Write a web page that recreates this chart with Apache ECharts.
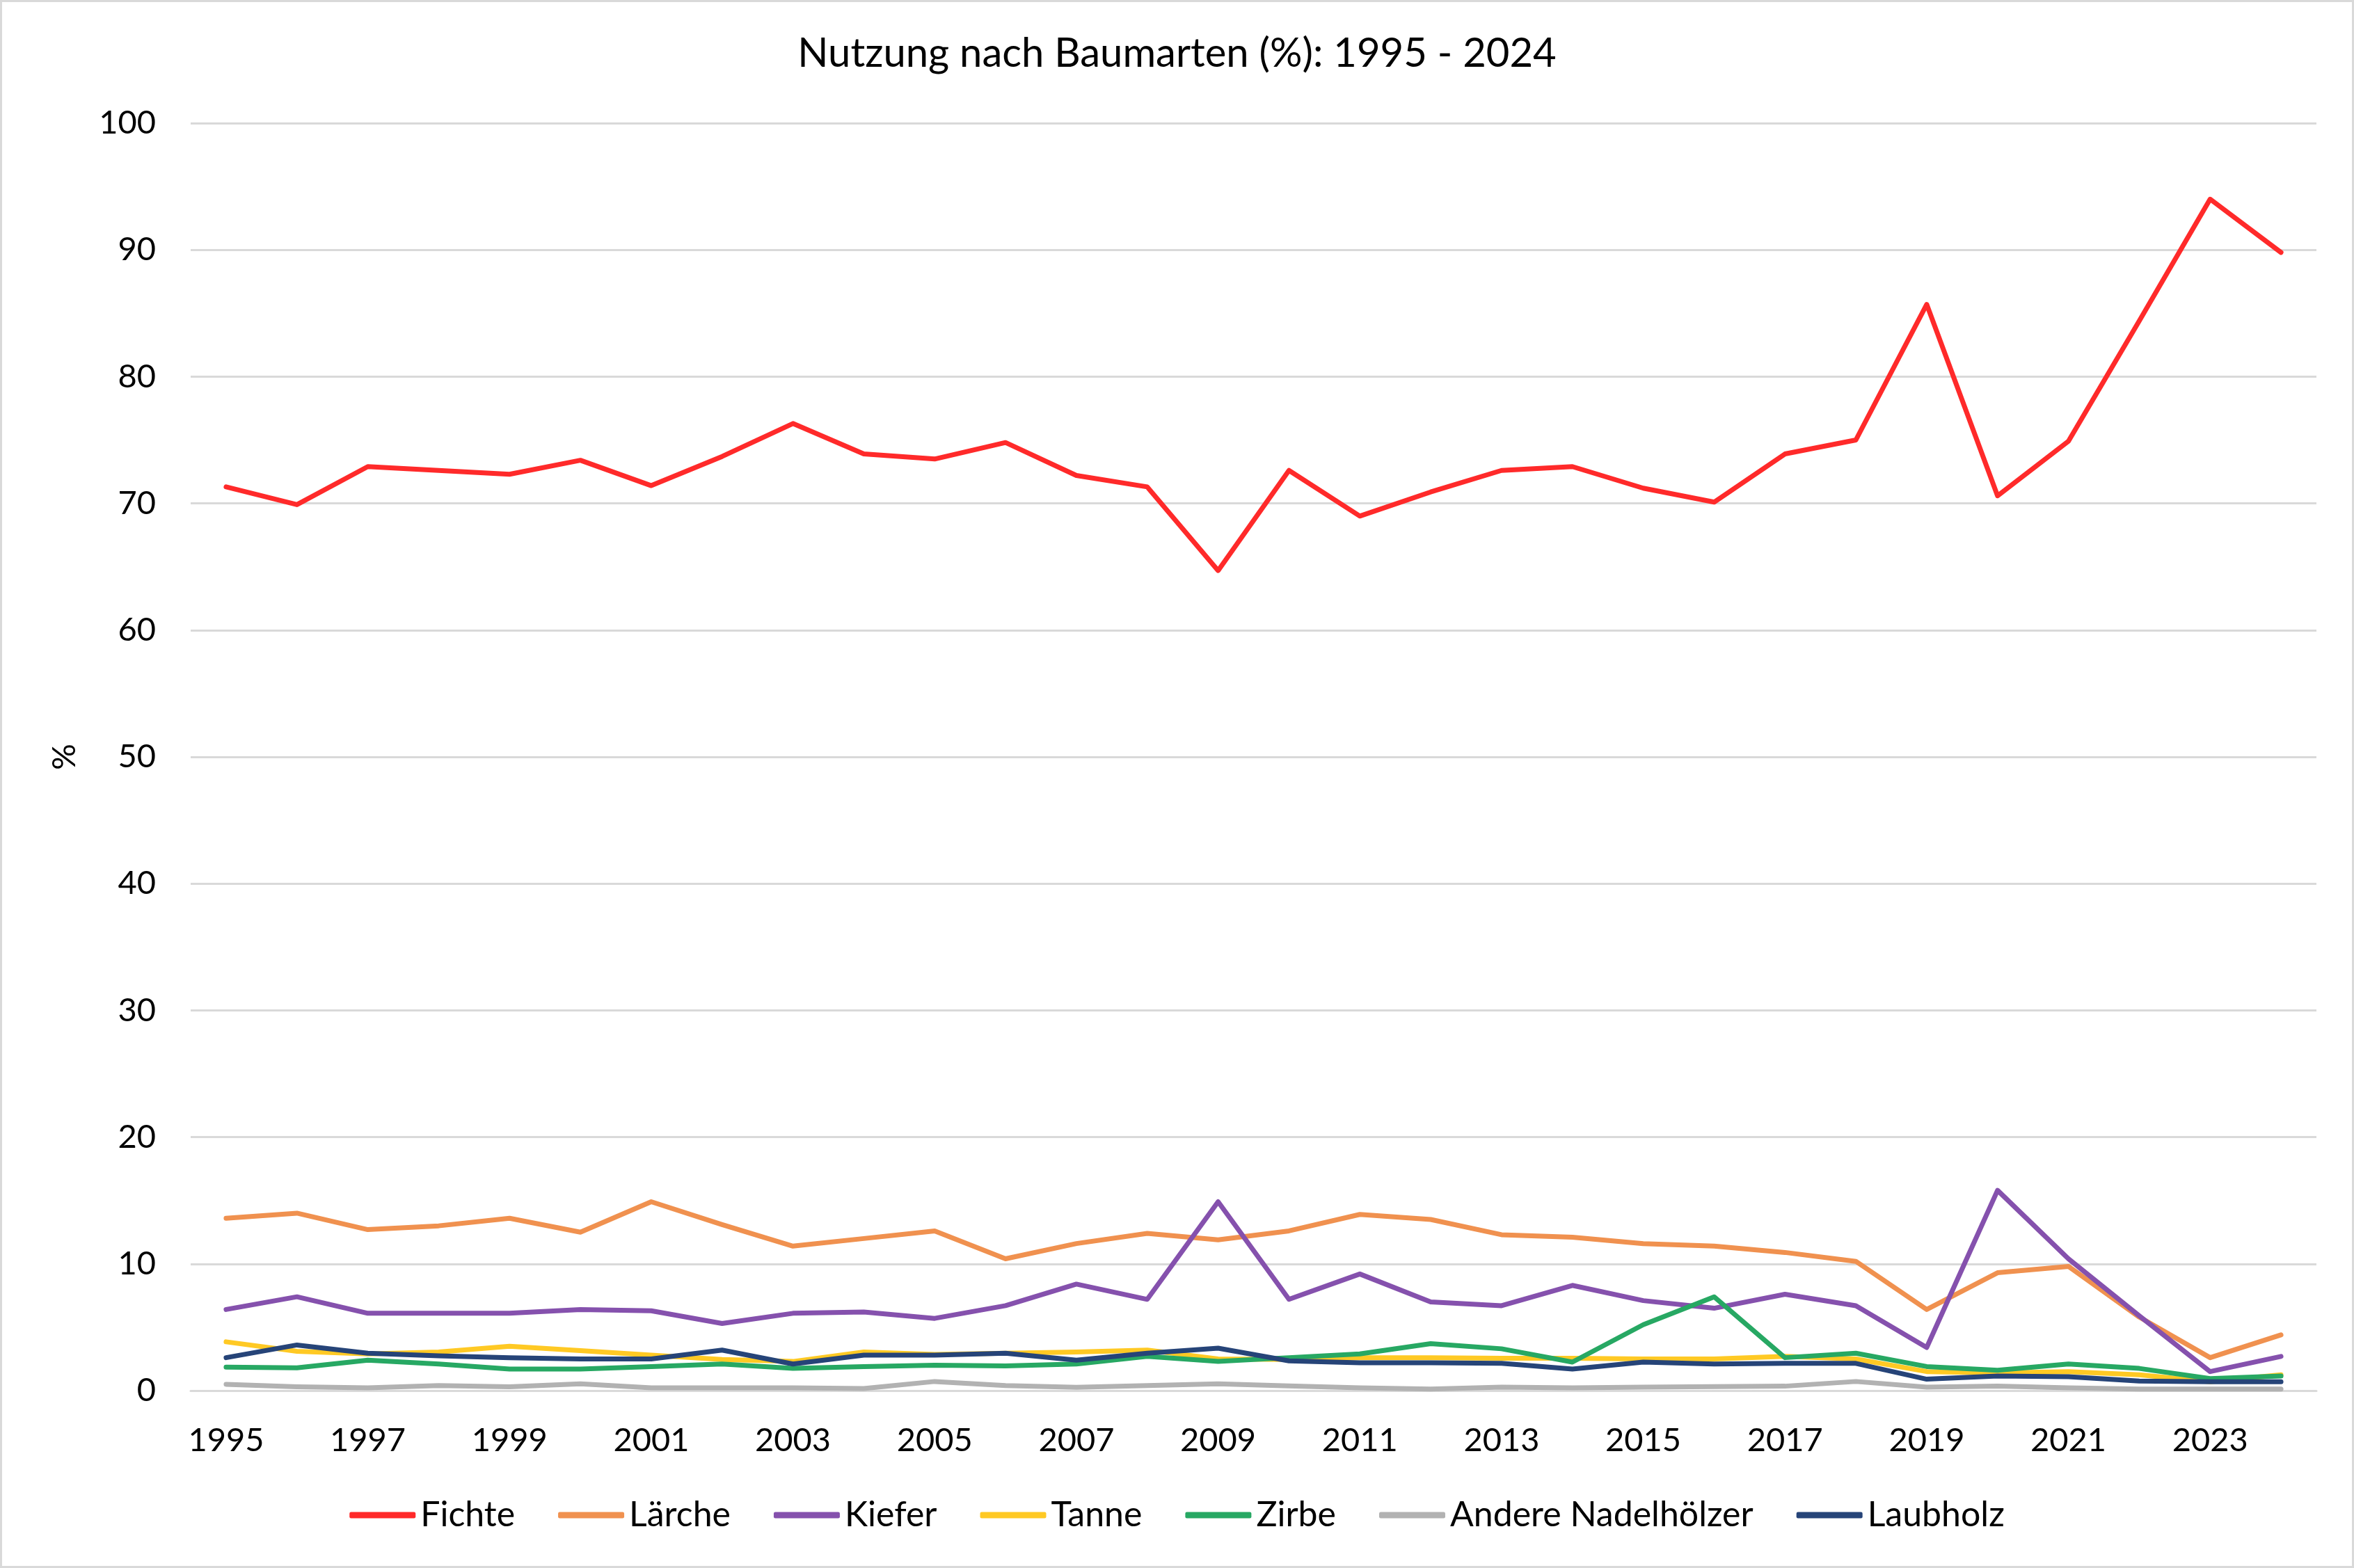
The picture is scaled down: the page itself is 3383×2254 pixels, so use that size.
<!DOCTYPE html>
<html>
<head>
<meta charset="utf-8">
<script src="https://cdn.jsdelivr.net/npm/echarts@6/dist/echarts.min.js"></script>
<style>
html,body{margin:0;padding:0;background:#fff;}
#c{width:3383px;height:2254px;}
</style>
</head>
<body>
<div id="c"></div>
<script>
const years = ['1995','1996','1997','1998','1999','2000','2001','2002','2003','2004','2005','2006','2007','2008','2009','2010','2011','2012','2013','2014','2015','2016','2017','2018','2019','2020','2021','2022','2023','2024'];
const yTicks = [0,10,20,30,40,50,60,70,80,90,100];

const fichte   = [71.3,69.9,72.9,72.6,72.3,73.4,71.4,73.7,76.3,73.9,73.5,74.8,72.2,71.3,64.7,72.6,69.0,70.9,72.6,72.9,71.2,70.1,73.9,75.0,85.7,70.6,74.9,84.4,94.0,89.8];
const laerche  = [13.6,14.0,12.7,13.0,13.6,12.5,14.9,13.1,11.4,12.0,12.6,10.4,11.6,12.4,11.9,12.6,13.9,13.5,12.3,12.1,11.6,11.4,10.9,10.2,6.4,9.3,9.8,5.8,2.6,4.4];
const kiefer   = [6.4,7.4,6.1,6.1,6.1,6.4,6.3,5.3,6.1,6.2,5.7,6.7,8.4,7.2,14.9,7.2,9.2,7.0,6.7,8.3,7.1,6.5,7.6,6.7,3.4,15.8,10.4,5.9,1.5,2.7];
const tanne    = [3.85,3.1,2.9,3.05,3.5,3.15,2.8,2.45,2.3,3.05,2.85,2.95,3.05,3.2,2.5,2.45,2.6,2.6,2.55,2.55,2.5,2.5,2.7,2.5,1.5,1.4,1.5,1.25,0.7,1.25];
const zirbe    = [1.85,1.8,2.4,2.1,1.7,1.7,1.9,2.1,1.75,1.9,2.0,1.95,2.1,2.7,2.3,2.6,2.9,3.7,3.3,2.25,5.2,7.4,2.6,2.95,1.9,1.6,2.1,1.75,0.95,1.15];
const andere   = [0.5,0.3,0.22,0.4,0.3,0.53,0.22,0.22,0.22,0.17,0.72,0.4,0.26,0.4,0.53,0.37,0.22,0.13,0.28,0.22,0.28,0.31,0.35,0.72,0.28,0.35,0.22,0.13,0.13,0.13];
const laubholz = [2.6,3.6,2.95,2.75,2.6,2.5,2.5,3.2,2.1,2.8,2.8,2.95,2.4,2.95,3.35,2.35,2.2,2.2,2.15,1.7,2.25,2.1,2.15,2.15,0.9,1.15,1.1,0.75,0.7,0.7];

const seriesNames = ['Fichte','Lärche','Kiefer','Tanne','Zirbe','Andere Nadelhölzer','Laubholz'];
const seriesData = [fichte,laerche,kiefer,tanne,zirbe,andere,laubholz];
const colors = ['#FF2A2A','#F0914F','#8551AD','#FFC924','#27A863','#B2B2B2','#264478'];

const FONT = 'Lato';
const chart = echarts.init(document.getElementById('c'), null, {renderer:'canvas'});
chart.setOption({
  backgroundColor:'#ffffff',
  animation:false,
  color: colors,
  graphic:[{type:'rect',shape:{x:1.5,y:1.5,width:3380,height:2251},style:{fill:'none',stroke:'#d9d9d9',lineWidth:3},silent:true}],
  title:{
    text:'Nutzung nach Baumarten (%): 1995 - 2024',
    left:'center', top:48, padding:0,
    textStyle:{fontFamily:FONT,fontSize:58,fontWeight:'normal',color:'#000'}
  },
  legend:{
    bottom:46, left:'center',
    itemWidth:95, itemHeight:9, itemGap:62,
    icon:'roundRect',
    textStyle:{fontFamily:FONT,fontSize:50,color:'#000',padding:[0,0,0,2]},
    data: seriesNames
  },
  grid:{left:274,right:54,top:177,bottom:255,containLabel:false},
  xAxis:{
    type:'category', data:years, boundaryGap:true,
    axisLine:{show:true,lineStyle:{color:'#d9d9d9',width:3}},
    axisTick:{show:false},
    axisLabel:{interval:1,fontFamily:FONT,fontSize:47,color:'#000',margin:48}
  },
  yAxis:{
    type:'value', min:yTicks[0], max:yTicks[yTicks.length-1], interval:10,
    name:'%', nameLocation:'middle', nameGap:158,
    nameTextStyle:{fontFamily:FONT,fontSize:47,color:'#000'},
    axisLine:{show:false}, axisTick:{show:false},
    axisLabel:{fontFamily:FONT,fontSize:47,color:'#000',margin:50},
    splitLine:{lineStyle:{color:'#d9d9d9',width:3}}
  },
  series: seriesNames.map((n,i)=>({
    name:n, type:'line', data:seriesData[i],
    showSymbol:false, symbol:'none',
    lineStyle:{width:7,color:colors[i],cap:'round',join:'round'},
    itemStyle:{color:colors[i]},
    z: 2+i
  }))
});
</script>
</body>
</html>
